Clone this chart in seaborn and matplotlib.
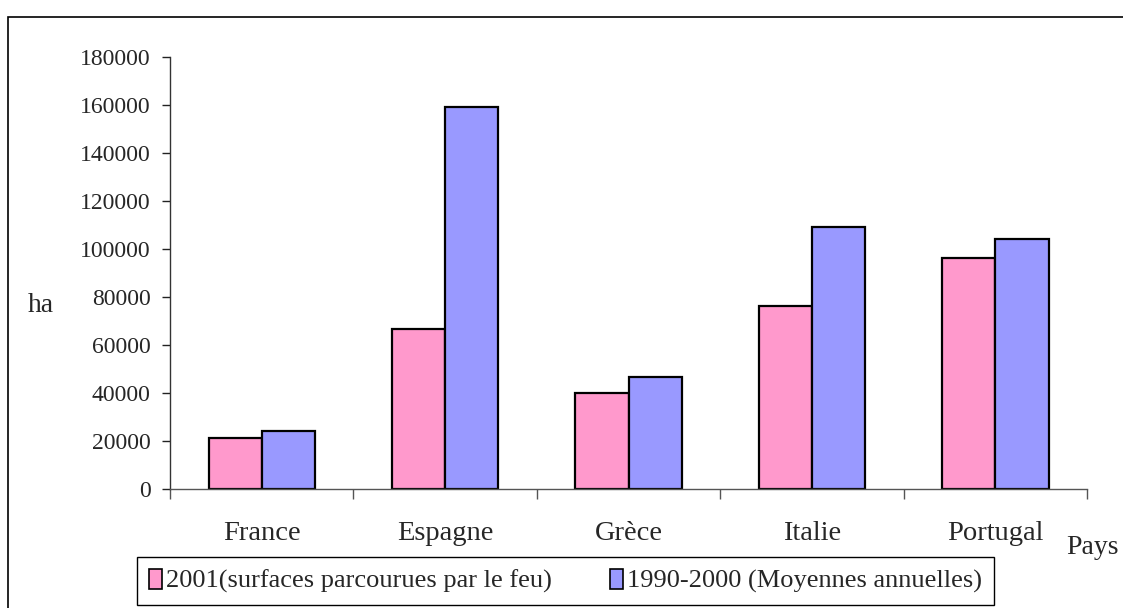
import pandas as pd
import matplotlib.pyplot as plt
import matplotlib.patches as patches
import seaborn as sns

# --- DATA ---
pays = ["France", "Espagne", "Grèce", "Italie", "Portugal"]
surf_2001 = [21400, 66500, 39900, 76400, 96400]
moy_1990_2000 = [24000, 159300, 46500, 109200, 104000]
series = ["2001(surfaces parcourues par le feu)", "1990-2000 (Moyennes annuelles)"]
y_ticks = [0, 20000, 40000, 60000, 80000, 100000, 120000, 140000, 160000, 180000]

df = pd.DataFrame({
    "Pays": pays * 2,
    "ha": surf_2001 + moy_1990_2000,
    "serie": [series[0]] * len(pays) + [series[1]] * len(pays),
})

sns.set_style("white")
plt.rcParams["font.family"] = ["Liberation Serif", "DejaVu Serif"]

fig = plt.figure(figsize=(11.23, 6.08), dpi=100)
ax = fig.add_axes([0.1514, 0.1957, 0.8166, 0.7106])

sns.barplot(data=df, x="Pays", y="ha", hue="serie", order=pays, hue_order=series,
            palette={series[0]: "#FF99CC", series[1]: "#9999FF"},
            width=0.58, edgecolor="black", linewidth=1.6, saturation=1, ax=ax)

ax.set_xlim(-0.5, len(pays) - 0.5)
ax.set_ylim(0, 180000)
ax.set_yticks(y_ticks)
ax.set_yticklabels([str(v) for v in y_ticks], fontsize=17)
ax.set_xticklabels(pays, fontsize=20.5)

# ticks between categories, labels centered
ax.set_xticks([i - 0.5 for i in range(len(pays) + 1)], minor=True)
ax.tick_params(axis="x", which="major", length=0, pad=23)
ax.tick_params(axis="x", which="minor", bottom=True, length=7, width=1, color="#555555", direction="out")
ax.tick_params(axis="y", left=True, length=6, width=1, color="#222222", direction="out", pad=8)

for s in ["top", "right"]:
    ax.spines[s].set_visible(False)
ax.spines["left"].set_color("#333333")
ax.spines["bottom"].set_color("#555555")
ax.spines["left"].set_linewidth(1)
ax.spines["bottom"].set_linewidth(1)

ax.set_xlabel("")
ax.set_ylabel("")
fig.text(28 / 1123, 1 - 305 / 608, "ha", fontsize=20, va="center", ha="left")
fig.text(1066 / 1123, 1 - 548 / 608, "Pays", fontsize=20, va="center", ha="left")

ax.legend_.remove()
handles = [patches.Patch(facecolor="#FF99CC", edgecolor="black", linewidth=1.2),
           patches.Patch(facecolor="#9999FF", edgecolor="black", linewidth=1.2)]
leg = fig.legend(handles, series, loc="center", bbox_to_anchor=(0.5036, 0.0444), ncol=2,
                 fontsize=19, frameon=True, fancybox=False, edgecolor="black", framealpha=1,
                 handlelength=0.5, handleheight=0.8, handletextpad=0.15, columnspacing=2.2,
                 borderpad=0.45, borderaxespad=0)
leg.get_frame().set_linewidth(1)
leg._legend_box.sep = 0
leg.get_frame().set_x(0)

# outer chart frame (runs off the right and bottom edges)
fig.patches.append(patches.Rectangle((8 / 1123, -0.1), 1.2, 0.1 + 1 - 17 / 608,
                                     transform=fig.transFigure, fill=False,
                                     edgecolor="black", linewidth=1.2))

fig.savefig("out.png", dpi=100)
